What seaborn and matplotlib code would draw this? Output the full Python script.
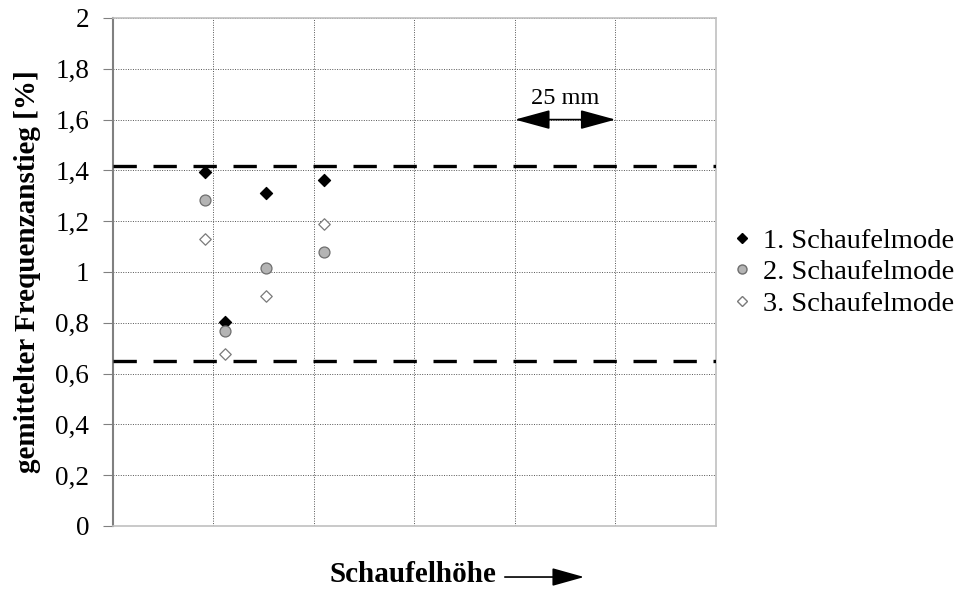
import seaborn as sns
import matplotlib.pyplot as plt
import pandas as pd
from matplotlib.patches import FancyArrowPatch
from matplotlib.ticker import FuncFormatter

# values (x in grid units, one unit = 25 mm)
pos = [0.92, 1.11, 1.52, 2.10]
mode1 = [1.395, 0.803, 1.312, 1.363]
mode2 = [1.282, 0.768, 1.015, 1.079]
mode3 = [1.131, 0.677, 0.906, 1.190]
labels = ['1. Schaufelmode', '2. Schaufelmode', '3. Schaufelmode']
upper_limit = 1.419
lower_limit = 0.651
yticks = [0, 0.2, 0.4, 0.6, 0.8, 1, 1.2, 1.4, 1.6, 1.8, 2]


def comma_fmt(y, pos):
    return f'{y:g}'.replace('.', ',')


sns.set_style("white")
plt.rcParams['font.family'] = ['Liberation Serif', 'DejaVu Serif']
plt.rcParams['text.color'] = 'black'
plt.rcParams['axes.labelcolor'] = 'black'
plt.rcParams['ytick.color'] = 'black'

fig = plt.figure(figsize=(9.59, 5.92), dpi=100)
ax = fig.add_axes([0.1178, 0.1115, 0.6288, 0.8581])

df = pd.DataFrame({'x': pos * 3,
                   'y': mode1 + mode2 + mode3,
                   'mode': [labels[0]] * 4 + [labels[1]] * 4 + [labels[2]] * 4})

styles = {labels[0]: dict(marker='D', color='black', edgecolor='black', s=38),
          labels[1]: dict(marker='o', color='#b4b4b4', edgecolor='#6e6e6e', s=62),
          labels[2]: dict(marker='D', color='white', edgecolor='#7a7a7a', s=34)}
for lab in labels:
    st = styles[lab]
    sns.scatterplot(data=df[df['mode'] == lab], x='x', y='y', ax=ax,
                    marker=st['marker'], color=st['color'], edgecolor=st['edgecolor'],
                    s=st['s'], linewidth=0.9, zorder=4)

ax.axhline(upper_limit, color='black', lw=2.4, dashes=(7.0, 5.0), zorder=3)
ax.axhline(lower_limit, color='black', lw=2.4, dashes=(7.0, 5.0), zorder=3)

ax.set_xlim(0, 6)
ax.set_ylim(0, 2)
ax.set_xticks(range(7))
ax.set_xticklabels([])
ax.set_yticks(yticks)
ax.yaxis.set_major_formatter(FuncFormatter(comma_fmt))
ax.grid(True, color='#555555', linestyle=(0, (1, 1.5)), linewidth=0.7)
ax.tick_params(axis='y', left=True, length=7, color='#808080', labelsize=19.5, pad=10)
ax.tick_params(axis='x', bottom=False, length=0)
ax.spines['left'].set_color('#808080')
ax.spines['left'].set_linewidth(1.5)
for s in ['top', 'right', 'bottom']:
    ax.spines[s].set_color('#c0c0c0')
    ax.spines[s].set_linewidth(1.2)

ax.set_xlabel('')
ax.set_ylabel('gemittelter Frequenzanstieg [%]', fontsize=21, fontweight='bold', labelpad=10)

# 25 mm scale arrow
ax.annotate('', xy=(4, 1.6), xytext=(5, 1.6),
            arrowprops=dict(arrowstyle='<|-|>,head_length=1.1,head_width=0.3',
                            color='black', lw=1.2, shrinkA=0, shrinkB=0, mutation_scale=20))
ax.text(4.5, 1.685, '25 mm', ha='center', va='center', fontsize=17.5)

# x label with arrow
fig.text(0.518, 0.030, 'Schaufelhöhe', ha='right', va='center', fontsize=21, fontweight='bold')
fig.patches.append(FancyArrowPatch(
    (0.5235, 0.0253), (0.612, 0.0253), transform=fig.transFigure,
    arrowstyle='-|>,head_length=1.0,head_width=0.28', mutation_scale=20,
    color='black', lw=1.2))

leg_handles = [plt.Line2D([], [], ls='', marker='D', ms=5, mfc='black', mec='black'),
               plt.Line2D([], [], ls='', marker='o', ms=6.5, mfc='#b4b4b4', mec='#6e6e6e'),
               plt.Line2D([], [], ls='', marker='D', ms=5, mfc='white', mec='#7a7a7a')]
fig.legend(leg_handles, labels, loc='center left', bbox_to_anchor=(0.766, 0.540),
           frameon=False, fontsize=20.5, handlelength=0.5, handletextpad=0.5,
           labelspacing=0.2, borderpad=0, borderaxespad=0)

fig.savefig('out.png', dpi=100)
